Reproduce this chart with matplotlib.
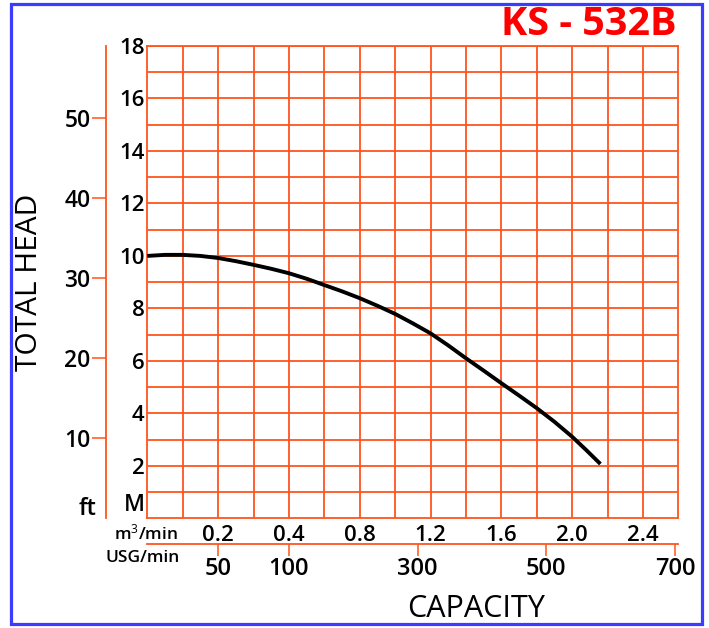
import numpy as np
import matplotlib
matplotlib.use("Agg")
import matplotlib.pyplot as plt
from matplotlib.patches import Rectangle

plt.rcParams['font.family'] = ['Open Sans', 'DejaVu Sans']
plt.rcParams['mathtext.fontset'] = 'custom'
plt.rcParams['mathtext.rm'] = 'Open Sans'
plt.rcParams['mathtext.it'] = 'Open Sans'

# pump curve KS-532B, capacity in m3/min, head in m
capacity = [0.0, 0.05, 0.1, 0.15, 0.2, 0.25, 0.3, 0.35, 0.4, 0.5, 0.6, 0.7, 0.8, 0.9,
            1.0, 1.1, 1.2, 1.3, 1.4, 1.5, 1.6, 1.7, 1.8, 1.9, 2.0, 2.08, 2.16]
head = [10.0, 10.04, 10.04, 10.0, 9.92, 9.8, 9.66, 9.51, 9.34, 9.13, 8.89, 8.65, 8.39,
        8.1, 7.79, 7.43, 7.05, 6.59, 6.1, 5.63, 5.15, 4.68, 4.2, 3.68, 3.11, 2.6, 2.07]

# the chart's capacity axis is stretched below 0.4 m3/min
m3_knots = [0.0, 0.4, 2.6]
grid_knots = [0, 4, 15]
usg_knots = [0, 100, 705]

m3_grid = [0.1, 0.2, 0.3, 0.4, 0.6, 0.8, 1.0, 1.2, 1.4, 1.6, 1.8, 2.0, 2.2, 2.4]
m3_ticks = [0.2, 0.4, 0.8, 1.2, 1.6, 2.0, 2.4]
m3_labels = ['0.2', '0.4', '0.8', '1.2', '1.6', '2.0', '2.4']
usg_ticks = [50, 100, 300, 500, 700]
m_ticks = [2, 4, 6, 8, 10, 12, 14, 16, 18]
ft_ticks = [10, 20, 30, 40, 50]

ORANGE = '#ff551c'


def m3_fwd(x):
    return np.interp(x, m3_knots, grid_knots)


def m3_inv(g):
    return np.interp(g, grid_knots, m3_knots)


def usg_fwd(x):
    return np.interp(x, usg_knots, grid_knots)


def usg_inv(g):
    return np.interp(g, grid_knots, usg_knots)


fig = plt.figure(figsize=(7.09, 6.28), dpi=100)
ax = fig.add_axes([147.3 / 709, 1 - 518.3 / 628, 531 / 709, 472.3 / 628])

ax.set_xscale('function', functions=(m3_fwd, m3_inv))
ax.set_xlim(0, 2.6)
ax.set_ylim(0, 18)

ax.set_xticks(m3_ticks)
ax.set_xticklabels(m3_labels)
ax.set_xticks(m3_grid, minor=True)
ax.set_yticks(m_ticks)
ax.set_yticks(np.arange(1, 18), minor=True)
ax.grid(which='both', color=ORANGE, lw=1.3)
ax.tick_params(which='both', length=0)
ax.tick_params(axis='x', pad=4.5, labelsize=16)
ax.tick_params(axis='y', pad=2, labelsize=16)
for lbl in ax.get_xticklabels() + ax.get_yticklabels():
    lbl.set_fontweight('semibold')
for s in ax.spines.values():
    s.set_color(ORANGE)
    s.set_linewidth(1.3)

ax.plot(capacity, head, color='black', lw=2.8, solid_capstyle='butt',
        solid_joinstyle='round', zorder=5)

# feet scale on the left
ax_ft = ax.secondary_yaxis(-0.0783, functions=(lambda m: m / 0.3048, lambda f: f * 0.3048))
ax_ft.set_yticks(ft_ticks)
ax_ft.tick_params(length=10, width=1.1, color=ORANGE, pad=1, labelsize=16.5)
ax_ft.spines['left'].set_color(ORANGE)
ax_ft.spines['left'].set_linewidth(1.3)
for lbl in ax_ft.get_yticklabels():
    lbl.set_fontweight('semibold')

# US gallons scale below
ax_usg = ax.twiny()
ax_usg.set_xscale('function', functions=(usg_fwd, usg_inv))
ax_usg.set_xlim(0, 705)
ax_usg.set_xticks(usg_ticks)
ax_usg.xaxis.set_ticks_position('bottom')
ax_usg.xaxis.set_label_position('bottom')
for side in ['top', 'left', 'right']:
    ax_usg.spines[side].set_visible(False)
ax_usg.spines['bottom'].set_position(('outward', 18.5))
ax_usg.spines['bottom'].set_color(ORANGE)
ax_usg.spines['bottom'].set_linewidth(1.3)
ax_usg.tick_params(axis='x', length=8.6, width=1.1, color=ORANGE, pad=1, labelsize=17)
for lbl in ax_usg.get_xticklabels():
    lbl.set_fontweight('semibold')

ax.text(-0.0043, 0.028, 'M', transform=ax.transAxes, ha='right', va='center',
        fontsize=16.5, fontweight='semibold')
ax.text(-0.1117, 0.02, 'ft', transform=ax.transAxes, ha='center', va='center',
        fontsize=17, fontweight='semibold')
ax.text(0.0578, -0.033, 'm$^3$/min', transform=ax.transAxes, ha='right', va='center',
        fontsize=12.5, fontweight='semibold')
ax.text(0.0614, -0.085, 'USG/min', transform=ax.transAxes, ha='right', va='center',
        fontsize=12.5, fontweight='semibold')

fig.text(677 / 709, 1 - 35 / 628, 'KS - 532B', ha='right', va='baseline',
         fontsize=28.5, fontweight='bold', color='#ff0000')
fig.text(476.5 / 709, 1 - 616.7 / 628, 'CAPACITY', ha='center', va='baseline', fontsize=22)
fig.text(29.5 / 709, 1 - 282 / 628, 'TOTAL HEAD', ha='center', va='center',
         rotation=90, fontsize=21.5)

fig.patches.append(Rectangle((11 / 709, 1 - 624 / 628), 690.5 / 709, 620 / 628,
                             transform=fig.transFigure, fill=False,
                             ec='#3c3cff', lw=2.3))

fig.savefig('out.png', dpi=100)
